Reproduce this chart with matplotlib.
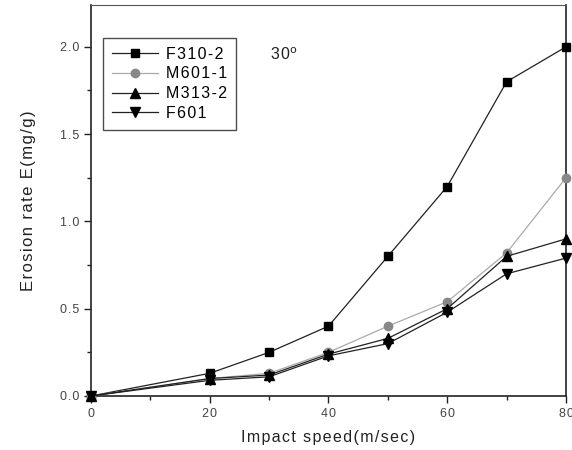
import matplotlib
matplotlib.use("Agg")
import matplotlib.pyplot as plt
from matplotlib.ticker import MultipleLocator, FuncFormatter

plt.rcParams['font.family'] = ['Liberation Sans', 'DejaVu Sans']

speed = [0, 20, 30, 40, 50, 60, 70, 80]
f310_2 = [0, 0.13, 0.25, 0.40, 0.80, 1.20, 1.80, 2.00]
m601_1 = [0, 0.10, 0.13, 0.25, 0.40, 0.54, 0.82, 1.25]
m313_2 = [0, 0.10, 0.12, 0.24, 0.33, 0.50, 0.80, 0.90]
f601 = [0, 0.09, 0.11, 0.23, 0.30, 0.48, 0.70, 0.79]

HAIR = '\u200a'


def spaced(s, sep=HAIR):
    return sep.join(s)


fig = plt.figure(figsize=(5.72, 4.5), dpi=100)
ax = fig.add_axes([0.159, 0.12, 0.8305, 0.869])

ax.plot(speed, f310_2, color='#222222', lw=0.9, marker='s', ms=6, mfc='black', mec='black',
        label=spaced('F310-2'), clip_on=False, zorder=3)
ax.plot(speed, m601_1, color='#aaaaaa', lw=0.9, marker='o', ms=6, mfc='#888888', mec='#888888',
        label=spaced('M601-1'), clip_on=False, zorder=3)
ax.plot(speed, m313_2, color='#222222', lw=0.9, marker='^', ms=7, mfc='black', mec='black',
        label=spaced('M313-2'), clip_on=False, zorder=3)
ax.plot(speed, f601, color='#222222', lw=0.9, marker='v', ms=7, mfc='black', mec='black',
        label=spaced('F601'), clip_on=False, zorder=3)

ax.set_xlim(0, 80)
ax.set_ylim(0, 2.24)
ax.xaxis.set_major_locator(MultipleLocator(20))
ax.xaxis.set_minor_locator(MultipleLocator(10))
ax.yaxis.set_major_locator(MultipleLocator(0.5))
ax.yaxis.set_minor_locator(MultipleLocator(0.25))
ax.yaxis.set_major_formatter(FuncFormatter(lambda v, p: spaced('%.1f' % v)))
ax.xaxis.set_major_formatter(FuncFormatter(lambda v, p: spaced('%d' % v)))
ax.tick_params(which='major', direction='out', length=5, width=1, labelsize=9, color='#222222', labelcolor='#444444')
ax.tick_params(which='minor', direction='out', length=3, width=1, color='#222222')
for s in ax.spines.values():
    s.set_linewidth(1.2)
    s.set_color('#222222')
ax.spines['top'].set_color('#555555')
ax.spines['top'].set_linewidth(0.8)

ax.set_xlabel(spaced('Impact speed(m/sec)'), fontsize=11.5, color='#222222', labelpad=7)
ax.set_ylabel(spaced('Erosion rate E(mg/g)'), fontsize=12, color='#222222', labelpad=17)

leg = ax.legend(loc='upper left', bbox_to_anchor=(0.025, 0.916), borderaxespad=0, fontsize=11.5, frameon=True,
                fancybox=False, edgecolor='#222222', handlelength=2.9, borderpad=0.55, labelspacing=0.3,
                handletextpad=0.5)
leg.get_frame().set_linewidth(1.0)

ax.text(0.377, 0.86, spaced('30') + r'$^\mathrm{o}$', transform=ax.transAxes, fontsize=11.5, color='#222222')

fig.savefig('out.png', dpi=100)
